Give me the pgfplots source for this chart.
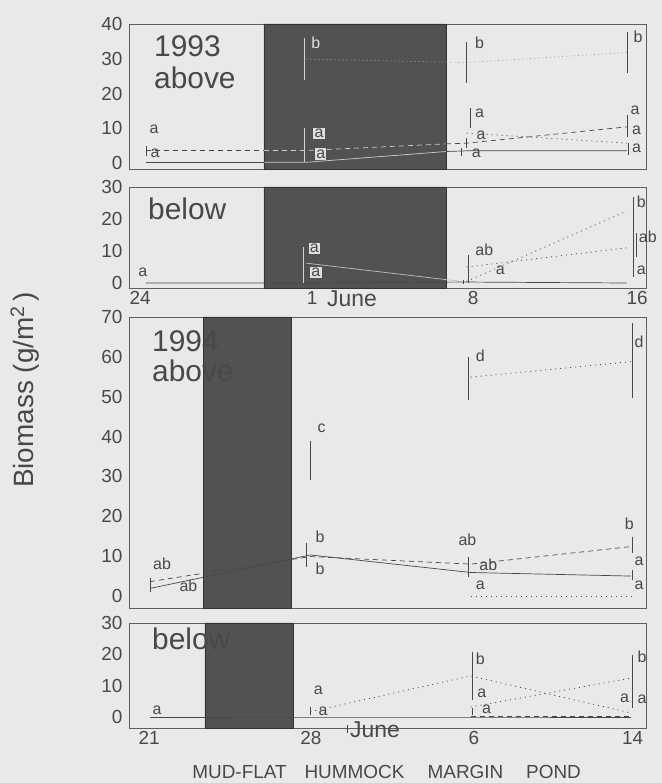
\documentclass[border=0pt]{standalone}
\usepackage{fontspec}
\setmainfont{Liberation Sans}
\usepackage{pgfplots}
\pgfplotsset{compat=1.18}
\definecolor{bg}{RGB}{233,233,233}
\definecolor{ink}{RGB}{72,72,72}
\definecolor{shade}{RGB}{82,82,82}
\definecolor{frame}{RGB}{95,95,95}
\pgfplotsset{
  panel/.style={anchor=south west, scale only axis, width=517bp, clip=false,
    axis line style={frame, line width=0.8bp},
    tick style={draw=none},
    xtick=\empty,
    ticklabel style={font=\fontsize{19}{19}\selectfont, text=ink},
    yticklabel style={xshift=-3bp},
    /pgf/number format/assume math mode=true},
  sol/.style={ink, line width=0.7bp, mark=none},
  dsh/.style={ink, line width=0.7bp, mark=none, dash pattern=on 5bp off 4bp},
  dot/.style={ink, line width=0.8bp, mark=none, dash pattern=on 1bp off 4bp},
  dotl/.style={gray!70, line width=0.8bp, mark=none, dash pattern=on 1bp off 3bp},
  band/.style={fill=shade, draw=black!80, line width=0.8bp, forget plot},
  bars/.style={draw=none, mark=none, forget plot,
    error bars/.cd, y dir=both, y explicit, error mark=none,
    error bar style={draw=ink, solid, line width=0.8bp}},
  lbars/.style={draw=none, mark=none, forget plot,
    error bars/.cd, y dir=both, y explicit, error mark=none,
    error bar style={draw=gray!35, solid, line width=0.9bp}},
}
\tikzset{lab/.style={font=\fontsize{16}{16}\selectfont, text=ink, inner sep=0pt},
  hl/.style={fill=gray!25, inner sep=1.2bp},
  big/.style={font=\fontsize{30}{30}\selectfont, text=ink, inner sep=0pt, anchor=base west}}
\begin{document}
\begin{tikzpicture}
\fill[bg] (0bp,0bp) rectangle (662bp,783bp);

% ---------- 1993 above ----------
\begin{axis}[panel, at={(129bp,614bp)}, height=145bp,
  xmin=-0.106, xmax=3.119, ymin=-1.73, ymax=40, ytick={0,10,20,30,40}]
\addplot[band] coordinates {(0.736,-1.73)(1.871,-1.73)(1.871,40)(0.736,40)(0.736,-1.73)};
\addplot[sol] coordinates {(0,0.2)(0.736,0.2)};
\addplot[sol, gray!40] coordinates {(0.736,0.2)(1,0.2)(1.871,3.3)};
\addplot[sol] coordinates {(1.871,3.3)(2,3.5)(3,3.5)};
\addplot[dsh] coordinates {(0,3.6)(0.736,3.6)};
\addplot[dsh, gray!40] coordinates {(0.736,3.6)(1,3.6)(1.871,5.5)};
\addplot[dsh] coordinates {(1.871,5.5)(2,5.7)(3,10.4)};
\addplot[dot] coordinates {(2,8.6)(3,5.7)};
\addplot[dotl] coordinates {(1,29.9)(2,28.9)(3,31.8)};
\addplot[lbars] table[x=x,y=y,y error=e] {
x y e
0.99 30.0 6.0
0.99 5.15 4.85
};
\addplot[bars] table[x=x,y=y,y error=e] {
x y e
0.00 3.4 1.5
2.00 28.9 5.9
2.024 13.0 2.9
2.00 5.75 1.45
1.97 3.2 1.1
3.00 31.8 5.9
3.00 10.65 3.15
3.01 4.05 1.75
};
\node[lab] at (axis cs:0.05,9.8) {a};
\node[lab] at (axis cs:0.056,2.9) {a};
\node[lab, text=gray!25] at (axis cs:1.06,34.5) {b};
\node[lab, hl] at (axis cs:1.08,8.6) {a};
\node[lab, hl] at (axis cs:1.09,2.6) {a};
\node[lab] at (axis cs:2.08,34.5) {b};
\node[lab] at (axis cs:2.08,14.4) {a};
\node[lab] at (axis cs:2.09,8.1) {a};
\node[lab] at (axis cs:2.06,2.9) {a};
\node[lab] at (axis cs:3.07,36.3) {b};
\node[lab] at (axis cs:3.05,15.3) {a};
\node[lab] at (axis cs:3.06,9.5) {a};
\node[lab] at (axis cs:3.06,4.3) {a};
\end{axis}

% ---------- 1993 below ----------
\begin{axis}[panel, at={(129bp,495bp)}, height=101bp,
  xmin=-0.106, xmax=3.119, ymin=-1.56, ymax=30, ytick={0,10,20,30},
  xtick={-0.037,1.036,2.041,3.064}, xticklabels={24,1,8,16}]
\addplot[band] coordinates {(0.736,-1.56)(1.871,-1.56)(1.871,30)(0.736,30)(0.736,-1.56)};
\addplot[sol] coordinates {(0,0)(1,0)(2,0.3)(3,0)};
\addplot[sol, gray!50] coordinates {(1,6.2)(2,0.3)};
\addplot[dot] coordinates {(2,5)(3,11)};
\addplot[dot] coordinates {(2,0.5)(3,22.5)};
\addplot[lbars] table[x=x,y=y,y error=e] {
x y e
0.98 5.65 5.65
};
\addplot[bars] table[x=x,y=y,y error=e] {
x y e
2.01 4.35 4.35
1.98 0.3 0.6
3.04 14.4 12.5
3.06 11.85 3.75
};
\node[lab] at (axis cs:-0.02,3.4) {a};
\node[lab, hl] at (axis cs:1.05,10.9) {a};
\node[lab, hl] at (axis cs:1.06,3.4) {a};
\node[lab] at (axis cs:2.11,10.3) {ab};
\node[lab] at (axis cs:2.21,4.1) {a};
\node[lab] at (axis cs:3.09,25.3) {b};
\node[lab] at (axis cs:3.13,14.4) {ab};
\node[lab] at (axis cs:3.09,4.1) {a};
\end{axis}

% ---------- 1994 above ----------
\begin{axis}[panel, at={(129bp,175bp)}, height=291bp,
  xmin=-0.131, xmax=3.094, ymin=-3.01, ymax=70, ytick={0,10,...,70}]
\addplot[band] coordinates {(0.331,-3.01)(0.880,-3.01)(0.880,70)(0.331,70)(0.331,-3.01)};
\addplot[sol] coordinates {(0,1.9)(1,10.3)(2,5.9)(3,5.0)};
\addplot[dsh] coordinates {(0,3.6)(1,9.9)(2,8.0)(3,12.4)};
\addplot[dot] coordinates {(2,54.9)(3,58.8)};
\addplot[dot] coordinates {(2,0)(3,0)};
\addplot[bars] table[x=x,y=y,y error=e] {
x y e
0.00 2.75 1.75
0.975 10.3 3.0
1.00 34.05 4.95
1.986 54.6 5.4
1.986 7.35 2.55
3.01 59.0 9.4
3.01 12.8 2.1
3.01 5.25 1.25
};
\node[lab] at (axis cs:0.075,8.2) {ab};
\node[lab] at (axis cs:0.24,2.5) {ab};
\node[lab] at (axis cs:1.07,42.1) {c};
\node[lab] at (axis cs:1.06,14.9) {b};
\node[lab] at (axis cs:1.06,6.7) {b};
\node[lab] at (axis cs:2.06,60.2) {d};
\node[lab] at (axis cs:1.98,14.2) {ab};
\node[lab] at (axis cs:2.11,7.8) {ab};
\node[lab] at (axis cs:2.06,2.8) {a};
\node[lab] at (axis cs:3.05,63.8) {d};
\node[lab] at (axis cs:2.99,18.2) {b};
\node[lab] at (axis cs:3.05,8.6) {a};
\node[lab] at (axis cs:3.05,2.8) {a};
\end{axis}

% ---------- 1994 below ----------
\begin{axis}[panel, at={(129bp,55bp)}, height=105bp,
  xmin=-0.131, xmax=3.094, ymin=-3.51, ymax=30, ytick={0,10,20,30},
  xtick={-0.006,1.004,2.02,3.01}, xticklabels={21,28,6,14}]
\addplot[band] coordinates {(0.343,-3.51)(0.892,-3.51)(0.892,30)(0.343,30)(0.343,-3.51)};
\addplot[sol] coordinates {(0,0)(1,0)(2,0)(3,0)};
\addplot[dsh] coordinates {(2,0.3)(3,0.3)};
\addplot[dot] coordinates {(1,1.7)(2,13.1)(3,1.3)};
\addplot[dot] coordinates {(2,3.2)(3,12.4)};
\addplot[bars] table[x=x,y=y,y error=e] {
x y e
1.00 1.9 1.3
2.01 13.1 7.7
2.01 1.75 1.15
3.01 11.35 8.45
};
\node[lab] at (axis cs:0.044,2.2) {a};
\node[lab] at (axis cs:1.05,8.6) {a};
\node[lab] at (axis cs:1.08,1.7) {a};
\node[lab] at (axis cs:2.06,18.7) {b};
\node[lab] at (axis cs:2.07,7.6) {a};
\node[lab] at (axis cs:2.10,2.6) {a};
\node[lab] at (axis cs:3.07,19.1) {b};
\node[lab] at (axis cs:2.96,6.0) {a};
\node[lab] at (axis cs:3.07,5.6) {a};
\end{axis}

% ---------- texts ----------
\node[big] at (154bp,726bp) {1993};
\node[big] at (154bp,694bp) {above};
\node[big] at (148bp,563bp) {below};
\node[big] at (152bp,431bp) {1994};
\node[big] at (152bp,401bp) {above};
\node[big] at (152bp,133bp) {below};
\node[font=\fontsize{23}{23}\selectfont, text=ink, inner sep=0pt, anchor=base west] at (327bp,476bp) {June};
\node[font=\fontsize{23}{23}\selectfont, text=ink, inner sep=0pt, anchor=base west] at (350bp,45bp) {June};
\draw[ink, line width=0.7bp] (347bp,58bp) -- (347bp,50bp);
\foreach \w/\xx in {MUD-FLAT/239.5, HUMMOCK/354.5, MARGIN/465.5, POND/553.5}
  \node[font=\fontsize{19}{19}\selectfont, text=ink, inner sep=0pt, anchor=base] at (\xx bp,5bp) {\w};
\node[font=\fontsize{28}{28}\selectfont, text=ink, inner sep=0pt, anchor=base, rotate=90] at (33bp,393bp) {Biomass (g/m\textsuperscript{2}\,)};
\end{tikzpicture}
\end{document}
